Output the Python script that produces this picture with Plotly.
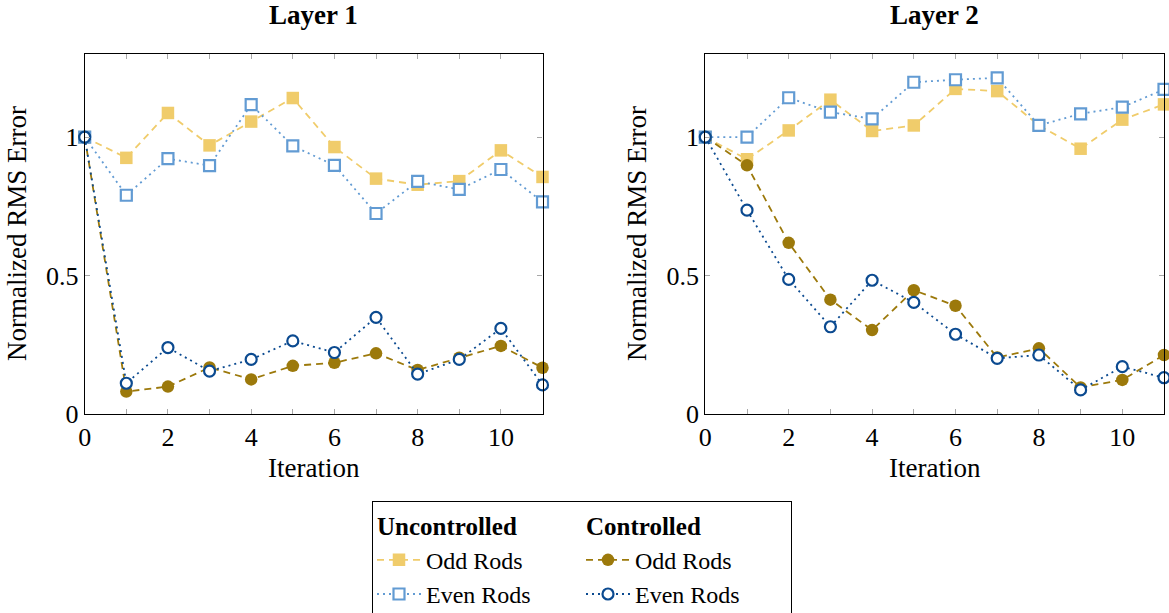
import plotly.graph_objects as go
from plotly.subplots import make_subplots

# Iterations on the x axis
iterations = list(range(12))

# Layer 1 – normalized RMS error per iteration
l1_unc_odd = [1.0, 0.925, 1.087, 0.970, 1.056, 1.141, 0.964, 0.850, 0.828, 0.841, 0.952, 0.856]
l1_unc_even = [1.0, 0.790, 0.922, 0.897, 1.117, 0.968, 0.898, 0.724, 0.840, 0.811, 0.883, 0.766]
l1_ctl_odd = [1.0, 0.081, 0.099, 0.168, 0.125, 0.174, 0.185, 0.219, 0.159, 0.203, 0.246, 0.167]
l1_ctl_even = [1.0, 0.111, 0.240, 0.155, 0.197, 0.264, 0.222, 0.349, 0.144, 0.197, 0.309, 0.105]

# Layer 2 – normalized RMS error per iteration
l2_unc_odd = [1.0, 0.920, 1.024, 1.135, 1.022, 1.042, 1.174, 1.166, 1.042, 0.958, 1.063, 1.118]
l2_unc_even = [1.0, 1.0, 1.142, 1.090, 1.066, 1.198, 1.207, 1.214, 1.042, 1.084, 1.108, 1.172]
l2_ctl_odd = [1.0, 0.898, 0.618, 0.413, 0.303, 0.447, 0.391, 0.204, 0.237, 0.096, 0.123, 0.213]
l2_ctl_even = [1.0, 0.736, 0.486, 0.315, 0.483, 0.403, 0.288, 0.201, 0.213, 0.087, 0.171, 0.131]

x_tickvals = list(range(12))
x_ticktext = [str(v) if v % 2 == 0 else "" for v in x_tickvals]
y_tickvals = [0, 0.5, 1]
y_ticktext = ["0", "0.5", "1"]

FONT = "Liberation Serif"
FS = 25
W, H = 1169, 613

C_UNC_ODD = "#F0CC6B"
C_UNC_EVEN = "#629BD3"
C_CTL_ODD = "#9C790B"
C_CTL_EVEN = "#0B4A90"

series = [
    # name, group, group title, color, dash, symbol, filled, layer1, layer2
    ("Odd Rods", "unc", "Uncontrolled", C_UNC_ODD, "7px,5px", "square", True, l1_unc_odd, l2_unc_odd),
    ("Even Rods", "unc", "Uncontrolled", C_UNC_EVEN, "2px,4px", "square", False, l1_unc_even, l2_unc_even),
    ("Odd Rods", "ctl", "Controlled", C_CTL_ODD, "7px,5px", "circle", True, l1_ctl_odd, l2_ctl_odd),
    ("Even Rods", "ctl", "Controlled", C_CTL_EVEN, "2px,4px", "circle", False, l1_ctl_even, l2_ctl_even),
]

fig = make_subplots(rows=1, cols=2)

for col in (1, 2):
    for name, grp, gtitle, color, dash, sym, filled, d1, d2 in series:
        vals = d1 if col == 1 else d2
        if filled:
            marker = dict(symbol=sym, size=12.5, color=color, line=dict(width=0))
        else:
            marker = dict(symbol=sym, size=11, color="white", line=dict(width=2.2, color=color))
        fig.add_trace(
            go.Scatter(
                x=iterations, y=vals, mode="lines+markers", name=name,
                legendgroup=grp,
                legendgrouptitle=dict(text="<b>" + gtitle + "</b>", font=dict(size=FS, family=FONT, color="black")),
                line=dict(color=color, width=1.8, dash=dash),
                marker=marker,
                showlegend=(col == 1),
                cliponaxis=False,
            ),
            row=1, col=col,
        )

# plot area positions
x_dom = [[84.7 / W, 542.5 / W], [705.3 / W, 1164 / W]]
y_dom = [1 - 414 / H, 1 - 54 / H]

axis_common = dict(
    showline=True, linecolor="black", linewidth=1.2, mirror="ticks",
    ticks="inside", ticklen=5, tickwidth=1.2, tickcolor="#a8a8a8",
    showgrid=False, zeroline=False, automargin=False,
    tickfont=dict(family=FONT, size=FS + 1, color="black"),
)

for i, ax in enumerate(["xaxis", "xaxis2"]):
    fig.layout[ax].update(domain=x_dom[i], range=[0, 11], tickvals=x_tickvals,
                          ticktext=x_ticktext, **axis_common)
for i, ax in enumerate(["yaxis", "yaxis2"]):
    fig.layout[ax].update(domain=y_dom, range=[0, 1.3], tickvals=y_tickvals,
                          ticktext=y_ticktext, **axis_common)

annotations = []
for i, title in enumerate(["Layer 1", "Layer 2"]):
    cx = (x_dom[i][0] + x_dom[i][1]) / 2
    annotations.append(dict(text="<b>" + title + "</b>", x=cx, y=1 - 15 / H, xref="paper", yref="paper",
                            showarrow=False, xanchor="center", yanchor="middle",
                            font=dict(family=FONT, size=FS + 2, color="black")))
    annotations.append(dict(text="Iteration", x=cx, y=1 - 468 / H, xref="paper", yref="paper",
                            showarrow=False, xanchor="center", yanchor="middle",
                            font=dict(family=FONT, size=FS + 2, color="black")))
for xc in (17, 637):
    annotations.append(dict(text="Normalized RMS Error", x=xc / W, y=(y_dom[0] + y_dom[1]) / 2,
                            xref="paper", yref="paper", showarrow=False, textangle=-90,
                            xanchor="center", yanchor="middle",
                            font=dict(family=FONT, size=FS + 2, color="black")))

fig.update_layout(
    width=W, height=H,
    margin=dict(l=0, r=0, t=0, b=0, autoexpand=False),
    paper_bgcolor="white", plot_bgcolor="white",
    font=dict(family=FONT, size=FS, color="black"),
    annotations=annotations,
    legend=dict(
        orientation="h", traceorder="grouped",
        x=582 / W, xanchor="center", y=1 - 501 / H, yanchor="top",
        bordercolor="black", borderwidth=1.2, bgcolor="white",
        font=dict(family=FONT, size=FS - 1, color="black"),
        tracegroupgap=20, itemwidth=44, entrywidth=150,
    ),
)

fig.write_html("out.html")
